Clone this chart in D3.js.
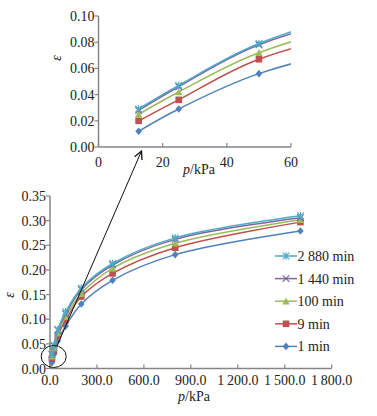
<!DOCTYPE html>
<html>
<head>
<meta charset="utf-8">
<script src="https://cdn.jsdelivr.net/npm/d3@7"></script>
<style>
  body { margin: 0; background: #fff; }
  text { font-family: "Liberation Serif", "DejaVu Serif", serif; fill: #222; }
</style>
</head>
<body>
<div id="chart"></div>
<script>
// load p (kPa) and strain per consolidation time
const pressure = [12.5, 25, 50, 100, 200, 400, 800, 1600];
const eps1min = [0.012, 0.029, 0.056, 0.086, 0.131, 0.179, 0.231, 0.279];
const eps9min = [0.020, 0.036, 0.067, 0.098, 0.146, 0.193, 0.245, 0.297];
const eps100min = [0.025, 0.042, 0.072, 0.105, 0.152, 0.203, 0.254, 0.302];
const eps1440min = [0.028, 0.046, 0.078, 0.111, 0.160, 0.210, 0.262, 0.306];
const eps2880min = [0.029, 0.047, 0.079, 0.115, 0.163, 0.213, 0.265, 0.310];
const seriesNames = ["2 880 min", "1 440 min", "100 min", "9 min", "1 min"];

const mainXTicks = [0, 300, 600, 900, 1200, 1500, 1800];
const mainYTicks = [0, 0.05, 0.10, 0.15, 0.20, 0.25, 0.30, 0.35];
const insetXTicks = [0, 20, 40, 60];
const insetYTicks = [0, 0.02, 0.04, 0.06, 0.08, 0.10];

const series = [
  { name: seriesNames[0], values: eps2880min, color: "#4bacc6", shape: "star" },
  { name: seriesNames[1], values: eps1440min, color: "#8064a2", shape: "x" },
  { name: seriesNames[2], values: eps100min, color: "#9bbb59", shape: "tri" },
  { name: seriesNames[3], values: eps9min, color: "#c0504d", shape: "sq" },
  { name: seriesNames[4], values: eps1min, color: "#4f81bd", shape: "dia" }
];

const W = 377, H = 416;
const svg = d3.select("#chart").append("svg")
  .attr("width", W).attr("height", H)
  .style("background", "#fff");

const defs = svg.append("defs");
defs.append("marker")
  .attr("id", "arrow")
  .attr("viewBox", "0 0 10 10")
  .attr("refX", 9).attr("refY", 5)
  .attr("markerWidth", 10).attr("markerHeight", 10)
  .attr("markerUnits", "userSpaceOnUse")
  .attr("orient", "auto")
  .append("path")
  .attr("d", "M1,1 L9,5 L1,9")
  .attr("fill", "none").attr("stroke", "#111").attr("stroke-width", 1.3);

// scales
const xMain = d3.scaleLinear().domain([0, 1800]).range([50, 331.7]);
const yMain = d3.scaleLinear().domain([0, 0.35]).range([368.5, 196]);
const xIn = d3.scaleLinear().domain([0, 60]).range([98.5, 291]);
const yIn = d3.scaleLinear().domain([0, 0.10]).range([147, 16]);

defs.append("clipPath").attr("id", "clipIn")
  .append("rect")
  .attr("x", xIn(0)).attr("y", yIn(0.1) - 5)
  .attr("width", xIn(60) - xIn(0)).attr("height", yIn(0) - yIn(0.1) + 5);

function drawMarker(g, shape, color, x, y) {
  const s = 3.3;
  if (shape === "dia") {
    g.append("path").attr("d", `M${x},${y - s - 0.5}L${x + s},${y}L${x},${y + s + 0.5}L${x - s},${y}Z`).attr("fill", color);
  } else if (shape === "sq") {
    g.append("rect").attr("x", x - s).attr("y", y - s).attr("width", 2 * s).attr("height", 2 * s).attr("fill", color);
  } else if (shape === "tri") {
    g.append("path").attr("d", `M${x},${y - s - 0.5}L${x + s + 0.3},${y + s}L${x - s - 0.3},${y + s}Z`).attr("fill", color);
  } else if (shape === "x") {
    g.append("path").attr("d", `M${x - s},${y - s}L${x + s},${y + s}M${x - s},${y + s}L${x + s},${y - s}`)
      .attr("stroke", color).attr("stroke-width", 1.2);
  } else {
    g.append("path").attr("d", `M${x - s},${y - s}L${x + s},${y + s}M${x - s},${y + s}L${x + s},${y - s}M${x},${y - s - 0.5}L${x},${y + s + 0.5}`)
      .attr("stroke", color).attr("stroke-width", 1.2);
  }
}

function drawAxes(xs, ys, xTicks, yTicks, xFmt, yFmt, xLabDy) {
  const axisColor = "#868686";
  const g = svg.append("g");
  const x0 = xs.range()[0], x1 = xs.range()[1];
  const y0 = ys.range()[0], y1 = ys.range()[1];
  g.append("line").attr("x1", x0).attr("x2", x1).attr("y1", y0).attr("y2", y0)
    .attr("stroke", axisColor).attr("stroke-width", 1.5);
  g.append("line").attr("x1", x0).attr("x2", x0).attr("y1", y0).attr("y2", y1)
    .attr("stroke", axisColor).attr("stroke-width", 1.5);
  xTicks.forEach(t => {
    g.append("line").attr("x1", xs(t)).attr("x2", xs(t)).attr("y1", y0).attr("y2", y0 - 4)
      .attr("stroke", axisColor).attr("stroke-width", 1.2);
    g.append("text").attr("x", xs(t)).attr("y", y0 + xLabDy)
      .attr("text-anchor", "middle").style("font-size", "14px").text(xFmt(t));
  });
  yTicks.forEach(t => {
    g.append("line").attr("x1", x0).attr("x2", x0 - 4).attr("y1", ys(t)).attr("y2", ys(t))
      .attr("stroke", axisColor).attr("stroke-width", 1.2);
    g.append("text").attr("x", x0 - 4).attr("y", ys(t) + 5)
      .attr("text-anchor", "end").style("font-size", "14px").text(yFmt(t));
  });
}

function drawSeries(xs, ys, clip) {
  const g = svg.append("g");
  if (clip) g.attr("clip-path", "url(#clipIn)");
  const line = d3.line().x(d => xs(d[0])).y(d => ys(d[1])).curve(d3.curveCatmullRom.alpha(0.5));
  series.slice().reverse().forEach(s => {
    const pts = pressure.map((p, i) => [p, s.values[i]]);
    g.append("path").datum(pts).attr("d", line)
      .attr("fill", "none").attr("stroke", s.color).attr("stroke-width", 1.5);
    pts.forEach(d => drawMarker(g, s.shape, s.color, xs(d[0]), ys(d[1])));
  });
}

const thousands = v => {
  const str = v.toFixed(1);
  const [a, b] = str.split(".");
  return (a.length > 3 ? a.slice(0, a.length - 3) + "\u2009" + a.slice(-3) : a) + "." + b;
};

// inset chart
drawAxes(xIn, yIn, insetXTicks, insetYTicks, d => d3.format("d")(d), d => d.toFixed(2), 19.5);
drawSeries(xIn, yIn, true);

// main chart
drawAxes(xMain, yMain, mainXTicks, mainYTicks, thousands, d => d.toFixed(2), 16.5);
drawSeries(xMain, yMain, false);

// axis titles
function pTitle(x, y) {
  const t = svg.append("text").attr("x", x).attr("y", y).attr("text-anchor", "middle").style("font-size", "14px");
  t.append("tspan").style("font-style", "italic").text("p");
  t.append("tspan").text("/kPa");
}
pTitle(194, 401);
pTitle(199, 174);

function epsTitle(x, y) {
  svg.append("text").attr("transform", `translate(${x},${y}) rotate(-90)`)
    .attr("text-anchor", "middle").style("font-size", "14px").style("font-style", "italic").text("ε");
}
epsTitle(14, 295);
epsTitle(61, 58);

// zoom circle and arrow
svg.append("ellipse").attr("cx", 53.7).attr("cy", 356.5).attr("rx", 12.5).attr("ry", 11)
  .attr("fill", "none").attr("stroke", "#111").attr("stroke-width", 1);
svg.append("line").attr("x1", 57).attr("y1", 346).attr("x2", 141.5).attr("y2", 151)
  .attr("stroke", "#111").attr("stroke-width", 1).attr("marker-end", "url(#arrow)");

// legend
const legend = svg.append("g");
series.forEach((s, i) => {
  const y = 256 + i * 22.6;
  legend.append("line").attr("x1", 275).attr("x2", 297).attr("y1", y).attr("y2", y)
    .attr("stroke", s.color).attr("stroke-width", 1.5);
  drawMarker(legend, s.shape, s.color, 286, y);
  legend.append("text").attr("x", 297.5).attr("y", y + 5).style("font-size", "14px").text(s.name);
});
</script>
</body>
</html>
